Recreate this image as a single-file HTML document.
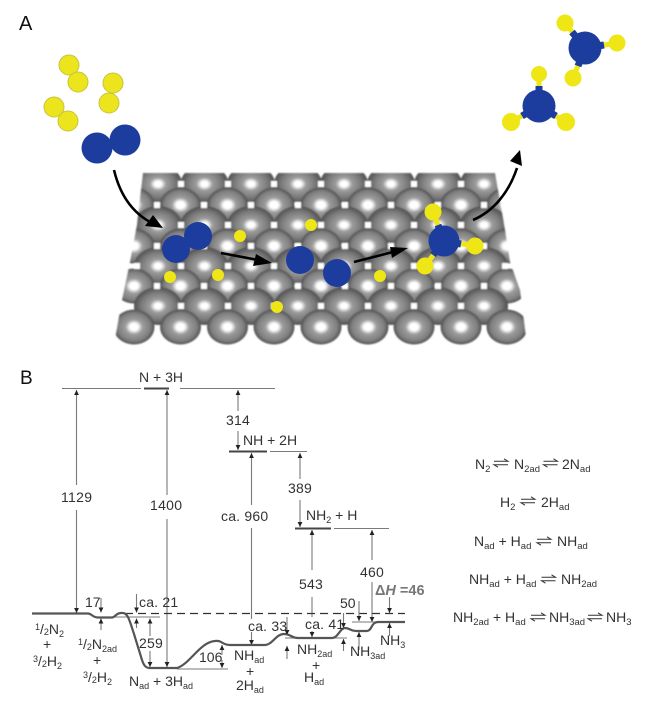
<!DOCTYPE html>
<html><head><meta charset="utf-8"><style>
html,body{margin:0;padding:0;background:#fff}
svg{display:block}
text{font-family:"Liberation Sans",sans-serif;font-size:14px;fill:#333}
.l{stroke:#7a7a7a;stroke-width:1.1;fill:none}
.t{stroke:#555;stroke-width:2.2;fill:none}
.a{marker-end:url(#m)}
.s{font-size:9px}
.e{font-size:14px}
.e tspan{font-size:9.5px}
</style></head><body>
<svg width="650" height="707" viewBox="0 0 650 707" xmlns="http://www.w3.org/2000/svg">
<defs>
<radialGradient id="g"><stop offset="0" stop-color="#fff"/><stop offset=".2" stop-color="#fff"/><stop offset=".42" stop-color="#9c9c9c"/><stop offset=".8" stop-color="#7e7e7e"/><stop offset="1" stop-color="#505050"/></radialGradient>
<radialGradient id="g2"><stop offset="0" stop-color="#fff"/><stop offset=".14" stop-color="#fff"/><stop offset=".34" stop-color="#9c9c9c"/><stop offset=".7" stop-color="#7a7a7a"/><stop offset="1" stop-color="#505050"/></radialGradient>
<ellipse id="sa" rx="24" ry="19" fill="url(#g2)"/>
<ellipse id="sb" rx="20.500" ry="17.500" fill="url(#g)"/>
<g id="ra"><use href="#sa" x="158"/><use href="#sa" x="204.500"/><use href="#sa" x="251"/><use href="#sa" x="298"/><use href="#sa" x="344"/><use href="#sa" x="391"/><use href="#sa" x="438"/><use href="#sa" x="484"/></g>
<g id="rb"><use href="#sb" x="134"/><use href="#sb" x="180.500"/><use href="#sb" x="227.500"/><use href="#sb" x="274"/><use href="#sb" x="321"/><use href="#sb" x="368"/><use href="#sb" x="414"/><use href="#sb" x="461"/><use href="#sb" x="507"/></g>
<g id="qa" fill="#fff"><rect x="178" y="-3" width="6" height="6"/><rect x="225" y="-3" width="6" height="6"/><rect x="271" y="-3" width="6" height="6"/><rect x="318" y="-3" width="6" height="6"/><rect x="365" y="-3" width="6" height="6"/><rect x="411" y="-3" width="6" height="6"/><rect x="458" y="-3" width="6" height="6"/></g>
<g id="qb" fill="#fff"><rect x="154" y="-3" width="6" height="6"/><rect x="201" y="-3" width="6" height="6"/><rect x="248" y="-3" width="6" height="6"/><rect x="295" y="-3" width="6" height="6"/><rect x="342" y="-3" width="6" height="6"/><rect x="388" y="-3" width="6" height="6"/><rect x="435" y="-3" width="6" height="6"/><rect x="481" y="-3" width="6" height="6"/></g>
<clipPath id="c"><polygon points="143,173 495,173 505,230 510,262 520,290 527,345 114,345 122,300 130,262 137,225"/></clipPath>
<filter id="b" x="-5%" y="-5%" width="110%" height="110%"><feGaussianBlur stdDeviation="0.7"/></filter>
<filter id="b2" x="-5%" y="-5%" width="110%" height="110%"><feGaussianBlur stdDeviation="0.35"/></filter>
<marker id="m" markerUnits="userSpaceOnUse" markerWidth="6" markerHeight="6" refX="5" refY="3" orient="auto"><path d="M0 .6L5 3L0 5.4z" fill="#222"/></marker>
<g id="eq" fill="none" stroke="#333" stroke-width="1"><path d="M0 -1.7H14L10 -4.2"/><path d="M14 1.7H0L4 4.2"/></g>
</defs>

<text x="19" y="30" style="font-size:20px;fill:#111">A</text>
<text x="20" y="384" style="font-size:19px;fill:#111">B</text>

<g filter="url(#b)"><g clip-path="url(#c)">
<use href="#ra" y="184"/><use href="#rb" y="205"/><use href="#ra" y="225"/><use href="#rb" y="246"/><use href="#ra" y="266"/><use href="#rb" y="286"/><use href="#ra" y="306"/><use href="#rb" y="327"/>
<use href="#qa" y="184"/><use href="#qb" y="205"/><use href="#qa" y="225"/><use href="#qb" y="246"/><use href="#qa" y="266"/><use href="#qb" y="286"/><use href="#qa" y="306"/>
<rect x="134" y="263" width="6" height="6" fill="#fff"/><rect x="502" y="263" width="6" height="6" fill="#fff"/>
</g></g>

<g filter="url(#b2)">
<g fill="#ece41e" stroke="#c8c43c" stroke-width="1"><circle cx="69" cy="65" r="10"/><circle cx="78" cy="82" r="10"/><circle cx="113" cy="83" r="10"/><circle cx="109" cy="103" r="10"/><circle cx="54" cy="107" r="10"/><circle cx="68" cy="121" r="10"/></g>
<g fill="#1c3e9e"><circle cx="97" cy="148" r="15.500"/><circle cx="125" cy="140" r="15.500"/>
<circle cx="198" cy="236" r="14"/><circle cx="176" cy="249" r="14"/><circle cx="300" cy="260" r="14"/><circle cx="337" cy="273" r="14"/></g>
<g fill="#efe614"><circle cx="240" cy="236" r="6"/><circle cx="311" cy="225" r="6"/><circle cx="170" cy="277" r="6"/><circle cx="218" cy="275" r="6"/><circle cx="277" cy="307" r="6"/><circle cx="380" cy="276" r="6"/></g>
<g stroke="#efe614" stroke-width="5"><path d="M444 241L433 212M444 241L475 246M444 241L425 266"/><path d="M539 106V74M539 106L511 122M539 106L566 122"/><path d="M585 48L565 23M585 48L617 43M585 48L573 78"/></g>
<g stroke="#1c3e9e" stroke-width="7"><path d="M444 241L438 225M444 241L461 244M444 241L433 255"/><path d="M539 106V86M539 106L522 116M539 106L556 116"/><path d="M585 48L572 32M585 48L604 45M585 48L578 66"/></g>
<g fill="#efe614"><circle cx="433" cy="212" r="8.500"/><circle cx="475" cy="246" r="8.500"/><circle cx="425" cy="266" r="8.500"/><circle cx="539" cy="74" r="8"/><circle cx="511" cy="122" r="9"/><circle cx="566" cy="122" r="9"/><circle cx="565" cy="23" r="8.500"/><circle cx="617" cy="43" r="8.500"/><circle cx="573" cy="78" r="8.500"/></g>
<g fill="#1c3e9e"><circle cx="444" cy="241" r="15.500"/><circle cx="539" cy="106" r="16.500"/><circle cx="585" cy="48" r="16.500"/></g>
<g fill="none" stroke="#000" stroke-width="2.600"><path d="M114 170C120 195 132 212 150 222"/><path d="M221 253L258 260"/><path d="M354 262L393 252"/><path d="M473 220C494 211 509 192 517 168"/></g>
<g fill="#000"><path d="M163 228L145 226L153 215z"/><path d="M272 263L253 266L256 254z"/><path d="M408 248L392 258L390 247z"/><path d="M520 150L522 166L510 161z"/></g>
</g>

<g filter="url(#b2)">
<path class="l" d="M62 388.500H141M180 388.500H275M270 451.500H307M334 528.500H389"/>
<path d="M144 388.500H169M229 451.500H267M295 528.500H331" stroke="#444" stroke-width="2" fill="none"/>
<path class="l a" d="M76.500 485V390"/><path class="l a" d="M76.500 510V613"/>
<path class="l a" d="M167 495V390"/><path class="l a" d="M167 519V667"/>
<path class="l a" d="M238 411V390"/><path class="l a" d="M238 431V450"/>
<path class="l a" d="M251.500 505V453"/><path class="l" d="M251.500 528V619"/><path class="l a" d="M251.500 632V645"/>
<path class="l a" d="M300 479V453"/><path class="l a" d="M300 500V527"/>
<path class="l a" d="M312 570V530"/><path class="l" d="M312 597V617"/><path class="l a" d="M312 631V637"/>
<path class="l a" d="M372 560V530"/><path class="l a" d="M372 582V622"/>

<path d="M125 613.500H405" stroke="#333" stroke-width="1.200" stroke-dasharray="8 5" fill="none"/>
<path class="l" d="M100 617H160M177 669H228M245 645H252M285 638H300M332 638H347M352 622H376"/>
<path class="t" d="M32 613.500H88C92 613.500 92 617.500 98 617.500H112C115 617.500 116 613 121 613H123C128 613 130 622 134 634L142 660C144 666 146 668 150 668H177C190 664 200 642 215 641C222 640 222 645 230 645H265C272 645 276 634 284 634C291 634 291 638 298 638H332C338 638 340 628 345 628C350 628 350 631 356 631H367C372 631 371 622 378 622H405"/>

<path class="l a" d="M101 598V612.500"/><path class="l a" d="M101 630V618.500"/>
<path class="l a" d="M136.500 594V612.500"/><path class="l a" d="M136.500 628V618.500"/>
<path class="l a" d="M150 636V618.500"/><path class="l a" d="M150 651V667"/>
<path class="l a" d="M222 655V645"/><path class="l a" d="M222 660V668"/>
<path class="l a" d="M287 617V635"/><path class="l a" d="M287 659V646"/>
<path class="l a" d="M343.500 613V628"/><path class="l a" d="M343.500 651V639"/>
<path class="l a" d="M359 601V621"/><path class="l a" d="M359 650V632"/>
<path class="l a" d="M389.500 597V613"/><path class="l a" d="M389.500 636V623"/>

<text x="139" y="382">N + 3H</text>
<text x="61" y="502" style="letter-spacing:.3px">1129</text>
<text x="150" y="510" style="letter-spacing:.3px">1400</text>
<text x="226" y="425" style="letter-spacing:.2px">314</text>
<text x="243" y="445">NH + 2H</text>
<text x="221" y="521" style="letter-spacing:.2px">ca. 960</text>
<text x="288" y="493" style="letter-spacing:.2px">389</text>
<text x="306" y="520">NH<tspan class="s" dy="3">2</tspan><tspan dy="-3"> + H</tspan></text>
<text x="299" y="589" style="letter-spacing:.2px">543</text>
<text x="360" y="577" style="letter-spacing:.2px">460</text>
<text x="85" y="607">17</text>
<text x="139" y="607" style="letter-spacing:.2px">ca. 21</text>
<text x="139" y="648" style="letter-spacing:.2px">259</text>
<text x="199" y="662">106</text>
<text x="248" y="631" style="letter-spacing:.2px">ca. 33</text>
<text x="305" y="629" style="letter-spacing:.2px">ca. 41</text>
<text x="340" y="608">50</text>
<text x="375" y="595" style="font-weight:bold;font-size:14.5px;fill:#777">&#916;<tspan font-style="italic">H</tspan> =46</text>

<text x="35" y="634"><tspan class="s" dy="-4">1</tspan><tspan dy="4">/</tspan><tspan class="s" dy="1">2</tspan><tspan dy="-1">N</tspan><tspan class="s" dy="3">2</tspan></text>
<text x="43" y="649">+</text>
<text x="33" y="666"><tspan class="s" dy="-4">3</tspan><tspan dy="4">/</tspan><tspan class="s" dy="1">2</tspan><tspan dy="-1">H</tspan><tspan class="s" dy="3">2</tspan></text>
<text x="78" y="649"><tspan class="s" dy="-4">1</tspan><tspan dy="4">/</tspan><tspan class="s" dy="1">2</tspan><tspan dy="-1">N</tspan><tspan class="s" dy="3">2ad</tspan></text>
<text x="93" y="665">+</text>
<text x="83" y="682"><tspan class="s" dy="-4">3</tspan><tspan dy="4">/</tspan><tspan class="s" dy="1">2</tspan><tspan dy="-1">H</tspan><tspan class="s" dy="3">2</tspan></text>
<text x="129" y="686">N<tspan class="s" dy="3">ad</tspan><tspan dy="-3"> + 3H</tspan><tspan class="s" dy="3">ad</tspan></text>
<text x="234" y="660">NH<tspan class="s" dy="3">ad</tspan></text>
<text x="246" y="676">+</text>
<text x="236" y="690">2H<tspan class="s" dy="3">ad</tspan></text>
<text x="297" y="654">NH<tspan class="s" dy="3">2ad</tspan></text>
<text x="312" y="670">+</text>
<text x="304" y="682">H<tspan class="s" dy="3">ad</tspan></text>
<text x="350" y="656">NH<tspan class="s" dy="3">3ad</tspan></text>
<text x="380" y="645">NH<tspan class="s" dy="3">3</tspan></text>

<text class="e" x="475" y="469">N<tspan dy="3">2</tspan></text><use href="#eq" x="494" y="463"/>
<text class="e" x="514" y="469">N<tspan dy="3">2ad</tspan></text><use href="#eq" x="543.500" y="463"/>
<text class="e" x="562" y="469">2N<tspan dy="3">ad</tspan></text>
<text class="e" x="500" y="507">H<tspan dy="3">2</tspan></text><use href="#eq" x="521" y="501"/>
<text class="e" x="541" y="507">2H<tspan dy="3">ad</tspan></text>
<text class="e" x="474" y="546">N<tspan dy="3">ad</tspan><tspan dy="-3" style="font-size:14px"> + H</tspan><tspan dy="3">ad</tspan></text><use href="#eq" x="537" y="541"/>
<text class="e" x="557" y="546">NH<tspan dy="3">ad</tspan></text>
<text class="e" x="469" y="584">NH<tspan dy="3">ad</tspan><tspan dy="-3" style="font-size:14px"> + H</tspan><tspan dy="3">ad</tspan></text><use href="#eq" x="541.500" y="579"/>
<text class="e" x="561" y="584">NH<tspan dy="3">2ad</tspan></text>
<text class="e" x="453" y="622">NH<tspan dy="3">2ad</tspan><tspan dy="-3" style="font-size:14px"> + H</tspan><tspan dy="3">ad</tspan></text><use href="#eq" x="531" y="617"/>
<text class="e" x="549" y="622">NH<tspan dy="3">3ad</tspan></text><use href="#eq" x="588" y="617"/>
<text class="e" x="606" y="622">NH<tspan dy="3">3</tspan></text>
</g>
</svg>
</body></html>
